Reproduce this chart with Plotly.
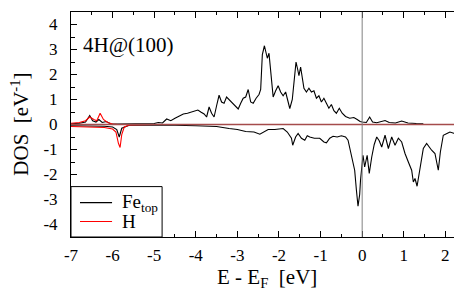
import plotly.graph_objects as go

# ---------------- data ----------------
fe_up_e = [-7.0, -6.8, -6.65, -6.55, -6.48, -6.4, -6.33, -6.25, -6.15, -6.05, -5.9, -5.5, -5.0, -4.9, -4.8, -4.7,
           -4.6, -4.5, -4.4, -4.3, -4.2, -4.1, -4.0, -3.95, -3.88, -3.8, -3.74, -3.68, -3.62, -3.56, -3.5, -3.44,
           -3.38, -3.32, -3.26, -3.2, -3.12, -3.05, -2.98, -2.92, -2.86, -2.8, -2.74, -2.68, -2.62, -2.55, -2.48,
           -2.44, -2.40, -2.35, -2.31, -2.28, -2.24, -2.19, -2.14, -2.08, -2.02, -1.96, -1.90, -1.84, -1.79, -1.74,
           -1.68, -1.63, -1.59, -1.55, -1.52, -1.48, -1.44, -1.40, -1.34, -1.28, -1.22, -1.16, -1.10, -1.04, -0.98,
           -0.92, -0.86, -0.80, -0.74, -0.68, -0.62, -0.55, -0.48, -0.40, -0.30, -0.20, -0.12, -0.05, 0.0, 0.1,
           0.18, 0.25, 0.35, 0.45, 0.55, 0.65, 0.8, 0.95, 1.1, 1.3, 1.47]
fe_up_dos = [0.03, 0.05, 0.1, 0.36, 0.15, 0.1, 0.2, 0.08, 0.12, 0.03, 0.02, 0.02, 0.04, 0.08, 0.06, 0.22,
             0.15, 0.25, 0.35, 0.42, 0.45, 0.5, 0.55, 0.58, 0.5, 0.42, 0.3, 0.7, 0.45, 0.3, 0.75, 1.17,
             0.9, 0.85, 1.1, 1.0, 0.85, 0.75, 0.62, 0.85, 1.05, 1.1, 1.4, 0.9, 0.85, 1.05, 1.2,
             1.4, 2.8, 3.15, 2.9, 2.65, 2.85, 2.0, 1.1, 1.35, 1.55, 1.3, 1.15, 1.3, 1.0, 0.64,
             1.0, 1.8, 2.5, 2.2, 1.95, 2.3, 1.8, 1.45, 1.3, 1.45, 1.3, 1.35, 1.05, 1.15, 0.9,
             1.05, 0.85, 0.65, 0.8, 0.55, 0.45, 0.65, 0.45, 0.32, 0.25, 0.28, 0.2, 0.12, 0.1, 0.08,
             0.3, 0.1, 0.07, 0.1, 0.16, 0.08, 0.06, 0.14, 0.06, 0.04, 0.03]

fe_dn_e = [-7.0, -6.5, -6.2, -6.0, -5.9, -5.84, -5.78, -5.6, -5.0, -4.5, -4.0, -3.5, -3.2, -3.0, -2.8, -2.6,
           -2.46, -2.35, -2.26, -2.1, -2.0, -1.9, -1.8, -1.7, -1.67, -1.6, -1.54, -1.46, -1.38, -1.32, -1.26,
           -1.15, -1.02, -0.92, -0.86, -0.78, -0.70, -0.60, -0.50, -0.40, -0.34, -0.26, -0.18, -0.14, -0.10,
           -0.06, -0.04, 0.02, 0.06, 0.12, 0.17, 0.23, 0.29, 0.35, 0.41, 0.47, 0.55, 0.63, 0.71, 0.79, 0.87,
           0.95, 1.03, 1.11, 1.19, 1.23, 1.27, 1.32, 1.39, 1.47, 1.55, 1.61, 1.67, 1.75, 1.83, 1.88, 1.95,
           2.05, 2.11, 2.2, 2.27, 2.35, 2.4]
fe_dn_dos = [-0.05, -0.05, -0.07, -0.1, -0.2, -0.5, -0.15, -0.03, -0.02, -0.03, -0.05, -0.08, -0.16, -0.2, -0.28, -0.3,
             -0.39, -0.3, -0.2, -0.2, -0.18, -0.16, -0.3, -0.55, -0.83, -0.5, -0.36, -0.55, -0.63, -0.45, -0.5,
             -0.55, -0.55, -0.7, -0.73, -0.55, -0.47, -0.5, -0.45, -0.5, -0.63, -1.29, -1.83, -2.6, -3.27,
             -2.8, -2.23, -1.23, -1.7, -1.23, -1.96, -1.3, -0.8, -0.5, -0.65, -0.9, -0.43, -0.96, -0.5, -0.83, -0.55,
             -0.7, -1.16, -1.5, -1.83, -2.3, -2.16, -2.47, -1.7, -0.96, -0.76, -0.9, -1.03, -1.16, -1.83, -1.1, -0.43,
             -0.35, -0.3, -0.35, -0.36, -0.23, -0.05]

h_up_e = [-7.0, -6.8, -6.65, -6.55, -6.45, -6.38, -6.3, -6.22, -6.12, -6.0, -5.9, -5.0, 2.4]
h_up_dos = [0.05, 0.08, 0.15, 0.3, 0.2, 0.15, 0.45, 0.2, 0.08, 0.02, 0.01, 0.0, 0.0]

h_dn_e = [-7.0, -6.5, -6.2, -6.0, -5.92, -5.86, -5.82, -5.78, -5.72, -5.6, -5.0, 2.4]
h_dn_dos = [-0.08, -0.1, -0.12, -0.18, -0.3, -0.75, -0.92, -0.4, -0.1, -0.02, 0.0, 0.0]

x_ticks = [-7, -6, -5, -4, -3, -2, -1, 0, 1, 2]
y_ticks = [-4, -3, -2, -1, 0, 1, 2, 3, 4]
legend_labels = ["Fe<sub>top</sub>", "H"]
legend_colors = ["black", "red"]

FONT = "'Liberation Serif', 'DejaVu Serif', 'Times New Roman', serif"

fig = go.Figure()
fig.add_trace(go.Scatter(x=fe_up_e, y=fe_up_dos, mode="lines", line=dict(color="black", width=1.1),
                         name=legend_labels[0]))
fig.add_trace(go.Scatter(x=fe_dn_e, y=fe_dn_dos, mode="lines", line=dict(color="black", width=1.1),
                         name=legend_labels[0]))
fig.add_trace(go.Scatter(x=h_up_e, y=h_up_dos, mode="lines", line=dict(color="red", width=1.1),
                         name=legend_labels[1]))
fig.add_trace(go.Scatter(x=h_dn_e, y=h_dn_dos, mode="lines", line=dict(color="red", width=1.1),
                         name=legend_labels[1]))

fig.add_hline(y=0, line=dict(color="rgb(165,75,75)", width=1.5))
fig.add_vline(x=0, line=dict(color="rgb(130,130,130)", width=1))

axis_common = dict(showgrid=False, zeroline=False, showline=True, linecolor="black", linewidth=1,
                   mirror="ticks", ticks="inside", ticklen=6, tickcolor="black", tickwidth=1,
                   tickfont=dict(family=FONT, size=17, color="black"))

fig.update_xaxes(range=[-7, 2.4], tickvals=x_ticks, ticktext=[str(v) for v in x_ticks],
                 minor=dict(dtick=0.5, ticks="inside", ticklen=3, tickcolor="black"),
                 ticklabelstandoff=3, **axis_common)
fig.update_yaxes(range=[-4.5, 4.5], tickvals=y_ticks, ticktext=[str(v) for v in y_ticks],
                 minor=dict(dtick=0.5, ticks="inside", ticklen=4, tickcolor="black"),
                 ticklabelstandoff=9, **axis_common)

# manual legend box (paper coordinates)
lx0, lx1, ly0, ly1 = 0.0, 0.233, 0.0, 0.224
line_x0, line_x1, text_x = 0.023, 0.105, 0.125
row_y = [0.153, 0.069]

shapes = [dict(type="rect", xref="paper", yref="paper", x0=lx0, x1=lx1, y0=ly0, y1=ly1,
               line=dict(color="black", width=1), fillcolor="white", layer="above")]
annotations = []
for lab, col, yy in zip(legend_labels, legend_colors, row_y):
    shapes.append(dict(type="line", xref="paper", yref="paper", x0=line_x0, x1=line_x1, y0=yy, y1=yy,
                       line=dict(color=col, width=1.2), layer="above"))
    annotations.append(dict(text=lab, xref="paper", yref="paper", x=text_x, y=yy, xanchor="left",
                            yanchor="middle", showarrow=False, font=dict(family=FONT, size=19)))

annotations += [
    dict(text="4H@(100)", xref="paper", yref="paper", x=0.026, y=0.853, xanchor="left", yanchor="middle",
         showarrow=False, font=dict(family=FONT, size=21)),
    dict(text="DOS  [eV<sup>-1</sup>]", xref="paper", yref="paper", x=-0.13, y=0.5, textangle=-90,
         xanchor="center", yanchor="middle", showarrow=False, font=dict(family=FONT, size=21)),
    dict(text="E - E<sub>F</sub>  [eV]", xref="paper", yref="paper", x=0.5, y=-0.18,
         xanchor="center", yanchor="middle", showarrow=False, font=dict(family=FONT, size=21)),
]

# page body has an 8px margin: shift the figure so that the plot lands where the reference has it
fig.update_layout(
    width=454, height=283,
    margin=dict(l=63, r=0, t=4, b=53.5),
    plot_bgcolor="white", paper_bgcolor="white",
    font=dict(family=FONT, color="black"),
    showlegend=False,
    shapes=fig.layout.shapes + tuple(shapes),
    annotations=annotations,
)

fig.write_html("out.html")
